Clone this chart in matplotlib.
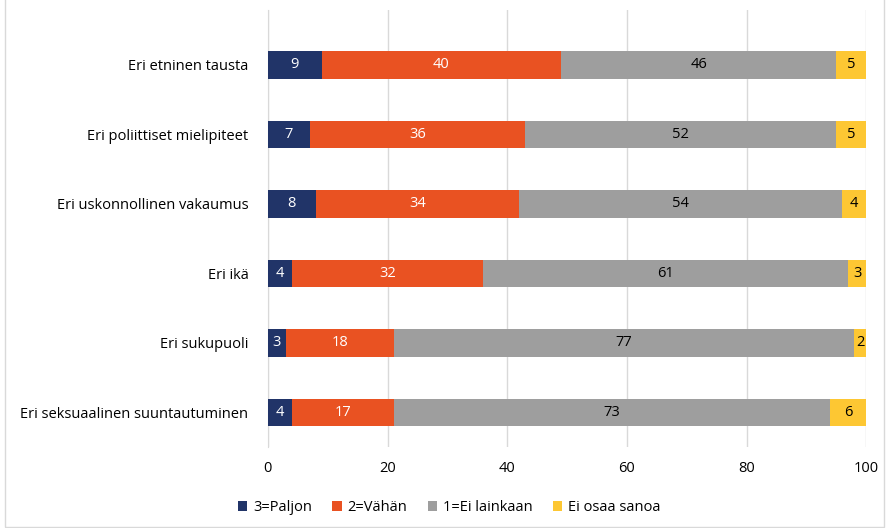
import numpy as np
import matplotlib.pyplot as plt
from matplotlib.patches import Rectangle

plt.rcParams['font.family'] = ['Open Sans', 'DejaVu Sans']

categories = ['Eri etninen tausta', 'Eri poliittiset mielipiteet',
              'Eri uskonnollinen vakaumus', 'Eri ikä', 'Eri sukupuoli',
              'Eri seksuaalinen suuntautuminen']
paljon = [9, 7, 8, 4, 3, 4]
vahan = [40, 36, 34, 32, 18, 17]
ei_lainkaan = [46, 52, 54, 61, 77, 73]
ei_osaa = [5, 5, 4, 3, 2, 6]

series = [('3=Paljon', paljon, '#213468', 'white'),
          ('2=Vähän', vahan, '#e95222', 'white'),
          ('1=Ei lainkaan', ei_lainkaan, '#9e9e9e', 'black'),
          ('Ei osaa sanoa', ei_osaa, '#fdc733', 'black')]

fs = 10.5
fig = plt.figure(figsize=(8.93, 5.28), dpi=100)
ax = fig.add_axes([0.300, 0.153, 0.670, 0.828])

y = np.arange(len(categories))
left = np.zeros(len(categories))
for name, vals, color, tcolor in series:
    vals = np.array(vals, dtype=float)
    bars = ax.barh(y, vals, left=left, height=0.40, color=color, label=name, zorder=3)
    ax.bar_label(bars, labels=[str(int(v)) for v in vals], label_type='center',
                 color=tcolor, fontsize=fs)
    left += vals

ax.set_ylim(5.5, -0.79)
ax.set_xlim(0, 100)
ax.set_xticks([0, 20, 40, 60, 80, 100])
ax.set_yticks(y)
ax.set_yticklabels(categories, fontsize=fs)
ax.tick_params(axis='x', labelsize=fs, length=0, pad=10)
ax.tick_params(axis='y', length=0, pad=14)
ax.grid(axis='x', color='#d9d9d9', linewidth=1, zorder=0)
for s in ['top', 'right', 'bottom']:
    ax.spines[s].set_visible(False)
ax.spines['left'].set_color('#d9d9d9')

fig.legend(loc='lower center', bbox_to_anchor=(0.503, 0.0), ncol=4, frameon=False,
           fontsize=fs, handlelength=0.65, handleheight=0.65, columnspacing=1.4,
           handletextpad=0.4)

fig.patches.append(Rectangle((0.006, 0.002), 0.984, 1.1, transform=fig.transFigure,
                             fill=False, edgecolor='#d9d9d9', linewidth=1))

plt.savefig('out.png', dpi=100)
